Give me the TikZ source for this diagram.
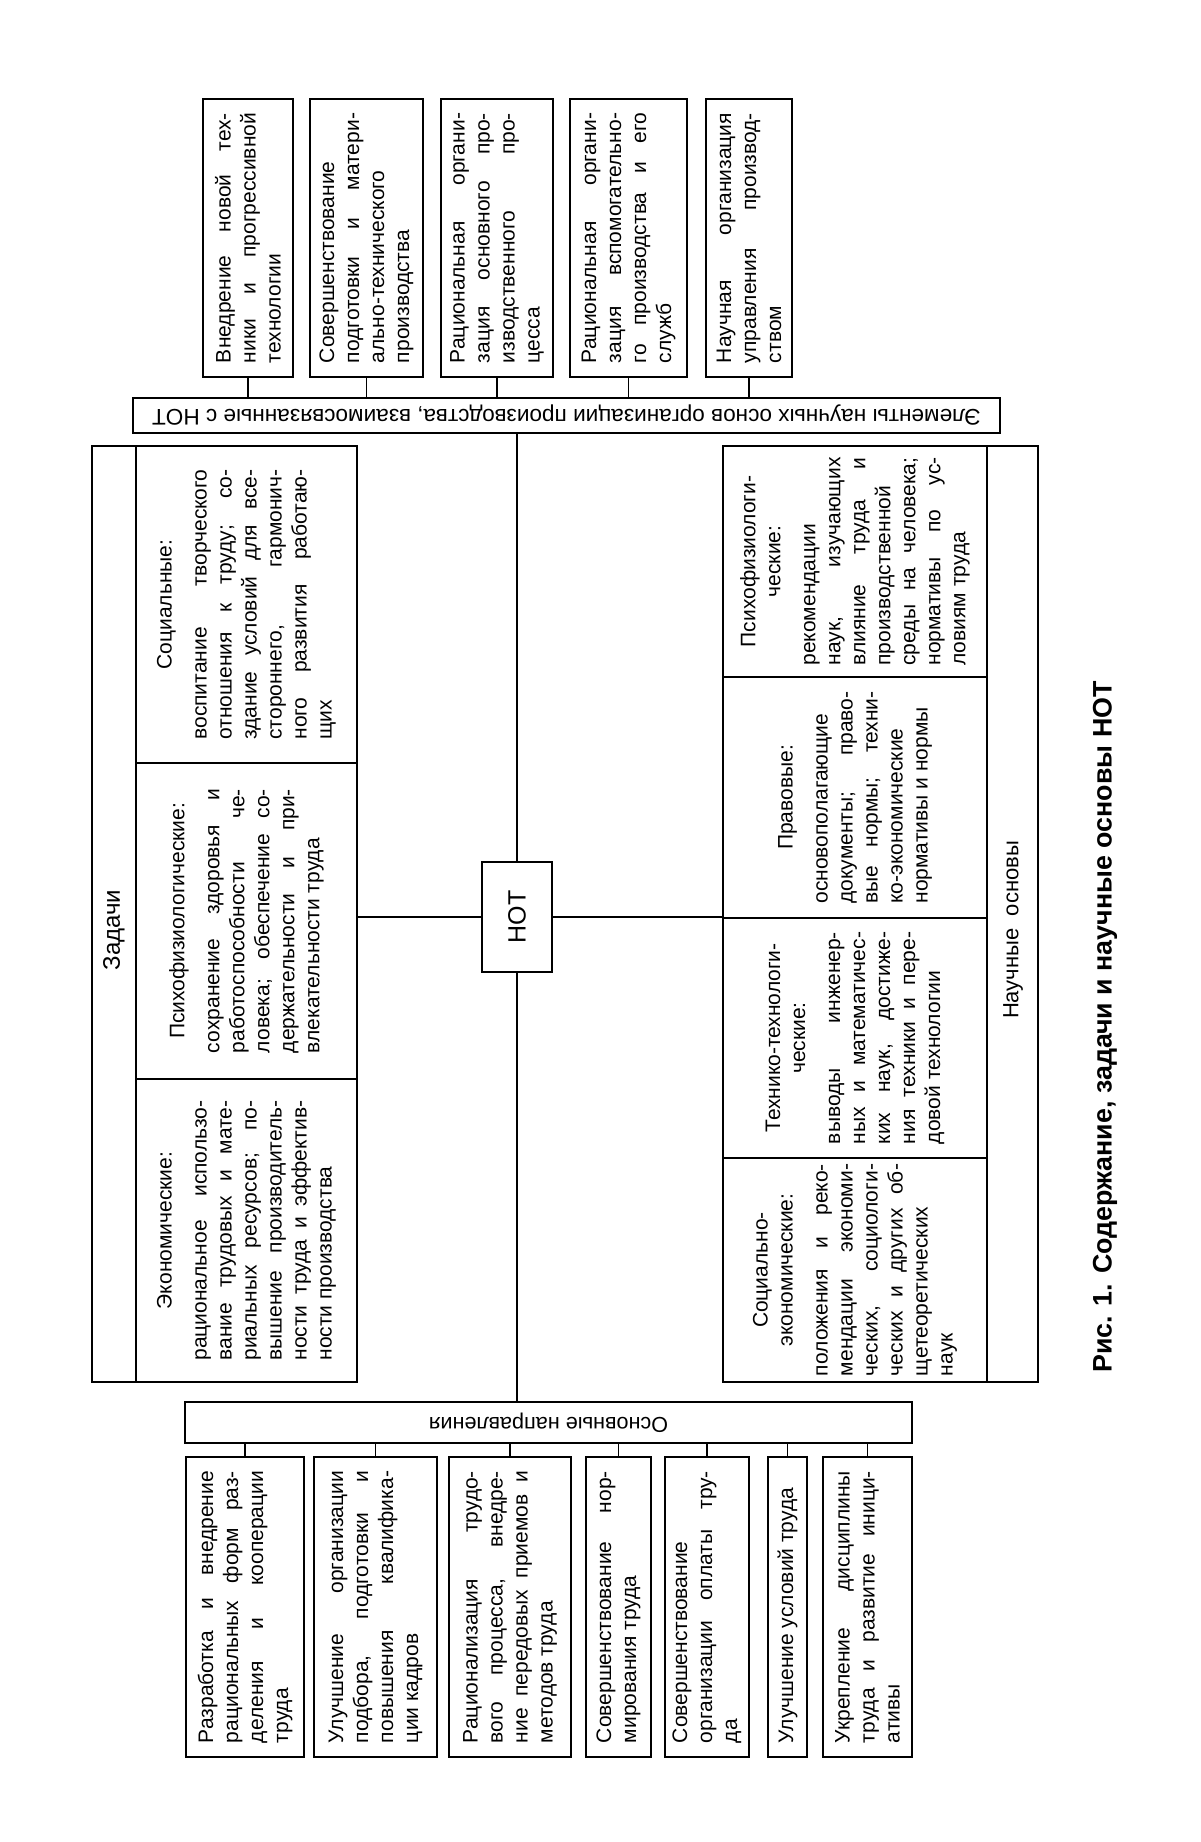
\documentclass[tikz,border=0pt]{standalone}
\usepackage{fontspec}
\setmainfont{Liberation Sans}
\usepackage{graphicx}
\usepackage{tikz}

% rotated paragraph, read from bottom to top
\newcommand{\vtxt}[2]{\rotatebox{90}{\parbox{#1}{\fontsize{10.5}{12.5}\selectfont
  \tolerance=10000\hyphenpenalty=10000\exhyphenpenalty=10000 #2}}}
\newcommand{\ttl}[1]{{\centering #1\par}\vspace{5pt}}

\begin{document}
\begin{tikzpicture}[x=0.5pt, y=-0.5pt,
  box/.style={draw, line width=1.1pt, inner sep=0pt},
  conn/.style={line width=0.8pt},
  lbl/.style={inner sep=0pt, font=\fontsize{11}{13}\selectfont},
]
\fill[white] (0,0) rectangle (1200,1842);
\useasboundingbox (0,0) rectangle (1200,1842);

% ===== elements of the scientific bases =====
\node[box, minimum width=45pt, minimum height=139pt] (t1) at (248,238)
  {\vtxt{125pt}{Внедрение новой тех-\linebreak ники и прогрессивной\linebreak технологии}};
\node[box, minimum width=56.5pt, minimum height=139pt] (t2) at (366.5,238)
  {\vtxt{125pt}{Совершенствование\linebreak подготовки и матери-\linebreak ально-технического\linebreak производства}};
\node[box, minimum width=56pt, minimum height=139pt] (t3) at (497,238)
  {\vtxt{125pt}{Рациональная органи-\linebreak зация основного про-\linebreak изводственного про-\linebreak цесса}};
\node[box, minimum width=58.5pt, minimum height=139pt] (t4) at (628.5,238)
  {\vtxt{125pt}{Рациональная органи-\linebreak зация вспомогательно-\linebreak го производства и его\linebreak служб}};
\node[box, minimum width=43pt, minimum height=139pt] (t5) at (749,238)
  {\vtxt{125pt}{Научная организация\linebreak управления производ-\linebreak ством}};

\node[box, minimum width=433.5pt, minimum height=17.5pt] (elem) at (566.5,415.5)
  {\rotatebox{180}{\fontsize{11.3}{12}\selectfont Элементы научных основ организации производства, взаимосвязанные с НОТ}};

% ===== tasks =====
\node[box, minimum width=132.5pt, minimum height=468pt] (zad) at (224.5,914) {};
\node[lbl, rotate=90, font=\fontsize{12}{14}\selectfont] (zadt) at (114,930) {Задачи};

\node[box, minimum width=110.5pt, minimum height=158.5pt] (soc) at (246.5,604.5)
  {\vtxt{135pt}{\ttl{Социальные:}воспитание творческого\linebreak отношения к труду; со-\linebreak здание условий для все-\linebreak стороннего, гармонич-\linebreak ного развития работаю-\linebreak щих}};
\node[box, minimum width=110.5pt, minimum height=158pt] (psy) at (246.5,921)
  {\vtxt{132pt}{\ttl{Психофизиологические:}сохранение здоровья и\linebreak работоспособности че-\linebreak ловека; обеспечение со-\linebreak держательности и при-\linebreak влекательности труда}};
\node[box, minimum width=110.5pt, minimum height=151.5pt] (eco) at (246.5,1230.5)
  {\vtxt{130pt}{\ttl{Экономические:}рациональное использо-\linebreak вание трудовых и мате-\linebreak риальных ресурсов; по-\linebreak вышение производитель-\linebreak ности труда и эффектив-\linebreak ности производства}};

% ===== NOT =====
\node[box, minimum width=35pt, minimum height=55pt] (nt) at (517,917)
  {\rotatebox{90}{\fontsize{12.5}{14}\selectfont НОТ}};

% ===== scientific bases =====
\node[box, minimum width=157.5pt, minimum height=468pt] (nsc) at (880.5,914) {};
\node[lbl, rotate=90] (nsct) at (1013,930) {Научные\ \ основы};

\node[box, minimum width=132pt, minimum height=115.5pt] (nps) at (855,561.5)
  {\vtxt{104pt}{\ttl{Психофизиологи-\\ческие:}рекомендации\linebreak наук, изучающих\linebreak влияние труда и\linebreak производственной\linebreak среды на человека;\linebreak нормативы по ус-\linebreak ловиям труда}};
\node[box, minimum width=132pt, minimum height=120.5pt] (npr) at (855,797.5)
  {\vtxt{106pt}{\ttl{Правовые:}основополагающие\linebreak документы; право-\linebreak вые нормы; техни-\linebreak ко-экономические\linebreak нормативы и нормы}};
\node[box, minimum width=132pt, minimum height=120pt] (ntt) at (855,1038)
  {\vtxt{106pt}{\ttl{Технико-технологи-\\ческие:}выводы инженер-\linebreak ных и математичес-\linebreak ких наук, достиже-\linebreak ния техники и пере-\linebreak довой технологии}};
\node[box, minimum width=132pt, minimum height=112pt] (nse) at (855,1270)
  {\vtxt{106pt}{\ttl{Социально-\\экономические:}положения и реко-\linebreak мендации экономи-\linebreak ческих, социологи-\linebreak ческих и других об-\linebreak щетеоретических\linebreak наук}};

% ===== main directions =====
\node[box, minimum width=363.5pt, minimum height=20.5pt] (osn) at (548.5,1422.5)
  {\rotatebox{180}{\fontsize{10.8}{12}\selectfont Основные направления}};

\node[box, minimum width=59pt, minimum height=150pt] (b1) at (245,1607)
  {\vtxt{136pt}{Разработка и внедрение\linebreak рациональных форм раз-\linebreak деления и кооперации\linebreak труда}};
\node[box, minimum width=61.5pt, minimum height=150pt] (b2) at (375.5,1607)
  {\vtxt{136pt}{Улучшение организации\linebreak подбора, подготовки и\linebreak повышения квалифика-\linebreak ции кадров}};
\node[box, minimum width=61pt, minimum height=150pt] (b3) at (510,1607)
  {\vtxt{136pt}{Рационализация трудо-\linebreak вого процесса, внедре-\linebreak ние передовых приемов и\linebreak методов труда}};
\node[box, minimum width=32.5pt, minimum height=150pt] (b4) at (618.5,1607)
  {\vtxt{136pt}{Совершенствование нор-\linebreak мирования труда}};
\node[box, minimum width=42pt, minimum height=150pt] (b5) at (707,1607)
  {\vtxt{136pt}{Совершенствование\linebreak организации оплаты тру-\linebreak да}};
\node[box, minimum width=19.5pt, minimum height=150pt] (b6) at (787.5,1607)
  {\vtxt{136pt}{Улучшение условий труда}};
\node[box, minimum width=44.5pt, minimum height=150pt] (b7) at (867.5,1607)
  {\vtxt{136pt}{Укрепление дисциплины\linebreak труда и развитие иници-\linebreak ативы}};

% ===== connectors =====
\foreach \n in {t1,t2,t3,t4,t5}
  \draw[conn] (\n.south) -- (\n.south |- elem.north);
\foreach \n in {b1,b2,b3,b4,b5,b6,b7}
  \draw[conn] (\n.north) -- (\n.north |- osn.south);
\draw[conn] (nt.north |- elem.south) -- (nt.north);
\draw[conn] (nt.south) -- (nt.south |- osn.north);
\draw[conn] (nt.west) -- (zad.east |- nt.west);
\draw[conn] (nt.east) -- (nsc.west |- nt.east);

% caption
\node[lbl, rotate=90, font=\fontsize{13.4}{16}\selectfont\bfseries] (cap) at (1105,1027)
  {Рис. 1. Содержание, задачи и научные основы НОТ};

\end{tikzpicture}
\end{document}
